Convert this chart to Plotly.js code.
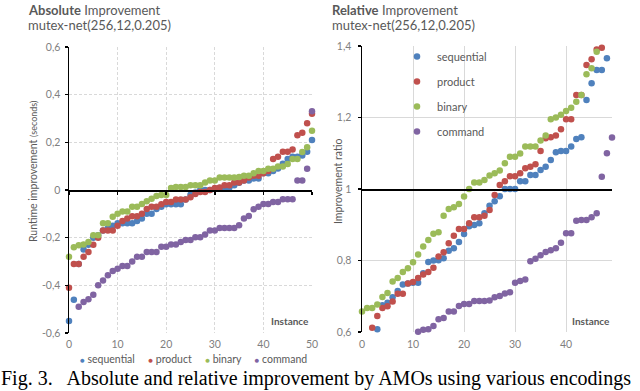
<!DOCTYPE html>
<html>
<head>
<meta charset="utf-8">
<script src="https://cdn.plot.ly/plotly-3.0.1.min.js"></script>
<style>html,body{margin:0;padding:0;background:#fff;}#chart{width:640px;height:391px;}</style>
</head>
<body>
<div id="chart"></div>
<script>
// ---------- data ----------
const seriesNames = ['sequential', 'product', 'binary', 'command'];
const seriesColors = ['#4F81BD', '#C0504D', '#9BBB59', '#8064A2'];

// Absolute improvement (seconds), instances 0..50
const instAbs = [0,1,2,3,4,5,6,7,8,9,10,11,12,13,14,15,16,17,18,19,20,21,22,23,24,25,26,27,28,29,30,31,32,33,34,35,36,37,38,39,40,41,42,43,44,45,46,47,48,49,50];
const absSequential = [-0.55,-0.46,-0.31,-0.25,-0.23,-0.20,-0.19,-0.17,-0.16,-0.15,-0.14,-0.14,-0.14,-0.14,-0.13,-0.12,-0.10,-0.10,-0.08,-0.07,-0.06,-0.06,-0.06,-0.06,-0.04,-0.02,-0.01,0.0,0.0,0.0,0.005,0.008,0.01,0.01,0.02,0.03,0.04,0.04,0.048,0.048,0.07,0.07,0.08,0.09,0.11,0.13,0.14,0.14,0.145,0.16,0.21];
const absProduct = [-0.41,-0.31,-0.31,-0.28,-0.26,-0.23,-0.20,-0.17,-0.17,-0.17,-0.15,-0.13,-0.12,-0.11,-0.11,-0.10,-0.08,-0.07,-0.07,-0.06,-0.05,-0.05,-0.04,-0.04,-0.04,-0.03,-0.017,-0.008,-0.008,0.0,0.008,0.011,0.02,0.02,0.031,0.031,0.04,0.052,0.06,0.06,0.07,0.08,0.13,0.14,0.16,0.16,0.17,0.23,0.24,0.28,0.32];
const absBinary = [-0.28,-0.24,-0.232,-0.229,-0.218,-0.19,-0.19,-0.14,-0.14,-0.112,-0.10,-0.09,-0.09,-0.07,-0.07,-0.059,-0.047,-0.037,-0.025,-0.021,-0.021,0.008,0.013,0.013,0.013,0.02,0.02,0.02,0.031,0.04,0.04,0.052,0.052,0.052,0.052,0.055,0.06,0.06,0.07,0.08,0.08,0.089,0.089,0.099,0.099,0.109,0.13,0.13,0.159,0.179,0.249];
const absCommand = [null,null,-0.49,-0.47,-0.458,-0.439,-0.40,-0.38,-0.358,-0.34,-0.33,-0.319,-0.319,-0.30,-0.28,-0.28,-0.26,-0.26,-0.26,-0.238,-0.238,-0.229,-0.229,-0.218,-0.21,-0.21,-0.198,-0.198,-0.187,-0.17,-0.17,-0.159,-0.159,-0.159,-0.159,-0.148,-0.12,-0.109,-0.081,-0.07,-0.059,-0.059,-0.05,-0.05,-0.039,-0.039,-0.039,0.04,0.04,0.089,0.33];

// Relative improvement (ratio), instances 0..49 (points outside 0.6..1.4 not shown)
const instRel = [0,1,2,3,4,5,6,7,8,9,10,11,12,13,14,15,16,17,18,19,20,21,22,23,24,25,26,27,28,29,30,31,32,33,34,35,36,37,38,39,40,41,42,43,44,45,46,47,48,49];
const relSequential = [null,null,null,0.608,0.675,0.682,0.697,0.715,0.733,0.736,0.738,0.738,0.764,0.796,0.80,0.801,0.806,0.827,0.834,0.852,0.874,0.896,0.899,0.904,0.932,0.953,0.966,0.98,1.0,1.0,1.0,1.022,1.022,1.039,1.039,1.053,1.062,1.081,1.103,1.106,1.106,1.119,1.14,1.145,1.249,1.296,1.333,1.333,1.366,null];
const relProduct = [null,null,0.612,0.645,0.667,0.672,0.685,0.707,0.707,0.736,0.74,0.751,0.761,0.768,0.78,0.811,0.823,0.848,0.869,0.888,0.888,0.904,0.921,0.921,0.925,0.941,0.983,1.011,1.022,1.036,1.036,1.044,1.058,1.062,1.069,1.106,1.142,1.145,1.15,1.167,1.195,1.195,1.263,1.263,1.347,1.363,1.39,1.395,null,null];
const relBinary = [0.657,0.667,0.667,0.677,0.698,0.709,0.741,0.751,0.768,0.778,0.795,0.817,0.839,0.857,0.875,0.879,0.925,0.944,0.949,0.958,0.979,1.0,1.018,1.018,1.025,1.038,1.044,1.052,1.072,1.09,1.09,1.099,1.119,1.119,1.119,1.136,1.15,1.195,1.2,1.208,1.218,1.227,1.244,1.263,1.321,1.338,1.384,null,null,null];
const relCommand = [null,null,null,null,null,null,null,null,null,null,null,0.601,0.606,0.608,0.617,0.636,0.639,0.657,0.657,0.673,0.678,0.678,0.687,0.687,0.687,0.688,0.697,0.701,0.708,0.711,0.738,0.743,0.747,0.798,0.805,0.815,0.824,0.829,0.834,0.85,0.876,0.876,0.911,0.913,0.913,0.921,0.932,1.034,1.1,1.144];

// axis ticks
const absXTicks = [0,10,20,30,40,50];
const absYTicks = [-0.6,-0.4,-0.2,0,0.2,0.4,0.6];
const absYLabels = ['-0,6','-0,4','-0,2','0','0,2','0,4','0,6'];
const relXTicks = [0,10,20,30,40];
const relYTicks = [0.6,0.8,1,1.2,1.4];
const relYLabels = ['0,6','0,8','1','1,2','1,4'];

// ---------- layout helpers ----------
const W = 640, H = 391;
const fx = p => p / W;
const fy = p => 1 - p / H;
const FONT = 'Lato, "Open Sans", sans-serif';
const GREY = '#595959';
const TICKGREY = '#7f7f7f';

const absRange = [-0.6, 0.6];
const relRange = [0.6, 1.4];
const domLx = [fx(69), fx(312)], domLy = [fy(333), fy(47)];
const domRx = [fx(362), fx(612)], domRy = [fy(332), fy(46)];
const posAt = (dom, range, v) => dom[0] + (v - range[0]) / (range[1] - range[0]) * (dom[1] - dom[0]);

const absSeries = [absSequential, absProduct, absBinary, absCommand];
const relSeries = [relSequential, relProduct, relBinary, relCommand];

const traces = [];
absSeries.forEach((ys, k) => {
  traces.push({
    type: 'scatter', mode: 'markers', x: instAbs, y: ys, name: seriesNames[k],
    xaxis: 'x', yaxis: 'y', showlegend: false, cliponaxis: false,
    marker: {color: seriesColors[k], size: 6.5, line: {width: 0}}
  });
});
relSeries.forEach((ys, k) => {
  traces.push({
    type: 'scatter', mode: 'markers', x: instRel, y: ys, name: seriesNames[k],
    xaxis: 'x2', yaxis: 'y2', showlegend: true, legendgroup: 'g' + k, cliponaxis: false,
    marker: {color: seriesColors[k], size: 6.5, line: {width: 0}}
  });
});
// invisible anchors so the crossing axis lines are drawn
traces.push({type:'scatter', mode:'markers', x:[0], y:[0], xaxis:'x3', yaxis:'y', showlegend:false, hoverinfo:'skip', marker:{opacity:0}});
traces.push({type:'scatter', mode:'markers', x:[0], y:[1], xaxis:'x4', yaxis:'y2', showlegend:false, hoverinfo:'skip', marker:{opacity:0}});

const commonTick = {family: FONT, size: 10.5, color: TICKGREY};

const layout = {
  width: W, height: H, autosize: false,
  margin: {l: 0, r: 0, t: 0, b: 0},
  paper_bgcolor: '#fff', plot_bgcolor: 'rgba(0,0,0,0)',
  font: {family: FONT, color: GREY},
  showlegend: true,
  xaxis: {
    domain: domLx, range: [0, 50], anchor: 'y',
    tickvals: absXTicks, ticks: '', ticklabelstandoff: 3,
    showgrid: true, gridcolor: '#d9d9d9', griddash: '3px,2px', gridwidth: 1,
    showline: false, zeroline: false, tickfont: commonTick
  },
  yaxis: {
    domain: domLy, range: absRange, anchor: 'x',
    tickvals: absYTicks, ticktext: absYLabels,
    ticks: 'outside', ticklen: 3, tickcolor: '#000', tickwidth: 1.5,
    showline: true, linecolor: '#000', linewidth: 1.5,
    showgrid: true, gridcolor: '#d9d9d9', griddash: '3px,2px', gridwidth: 1,
    zeroline: false, tickfont: commonTick, ticklabelstandoff: 2
  },
  xaxis3: {
    overlaying: 'x', anchor: 'free', position: posAt(domLy, absRange, 0),
    range: [0, 50], tickvals: absXTicks, showticklabels: false,
    ticks: 'outside', ticklen: 3, tickcolor: '#000', tickwidth: 1.5,
    showline: true, linecolor: '#000', linewidth: 1.5,
    showgrid: false, zeroline: false
  },
  xaxis2: {
    domain: domRx, range: [0, 49], anchor: 'y2',
    tickvals: relXTicks, ticks: '', ticklabelstandoff: 4,
    showgrid: true, gridcolor: '#d9d9d9', gridwidth: 1,
    showline: false, zeroline: false, tickfont: commonTick
  },
  yaxis2: {
    domain: domRy, range: relRange, anchor: 'x2',
    tickvals: relYTicks, ticktext: relYLabels,
    ticks: 'outside', ticklen: 3, tickcolor: '#000', tickwidth: 1.5,
    showline: true, linecolor: '#000', linewidth: 1.5,
    showgrid: true, gridcolor: '#d9d9d9', gridwidth: 1,
    zeroline: false, tickfont: commonTick, ticklabelstandoff: 4
  },
  xaxis4: {
    overlaying: 'x2', anchor: 'free', position: posAt(domRy, relRange, 1),
    range: [0, 49], showticklabels: false, ticks: '',
    showline: true, linecolor: '#000', linewidth: 1.5,
    showgrid: false, zeroline: false
  },
  legend: {
    x: fx(397), xanchor: 'left', y: fy(42), yanchor: 'top',
    bgcolor: 'rgba(0,0,0,0)', borderwidth: 0,
    font: {family: FONT, size: 11, color: GREY},
    tracegroupgap: 6, itemclick: false, itemdoubleclick: false
  },
  annotations: []
};

const ann = (text, x, y, opts) => Object.assign({
  text: text, x: fx(x), y: fy(y), xref: 'paper', yref: 'paper',
  xanchor: 'left', yanchor: 'middle', showarrow: false,
  font: {family: FONT, size: 13, color: GREY}
}, opts || {});

layout.annotations.push(ann('<b>Absolute</b> Improvement', 26, 10));
layout.annotations.push(ann('mutex-net(256,12,0.205)', 26, 25));
layout.annotations.push(ann('<b>Relative</b> Improvement', 330, 10));
layout.annotations.push(ann('mutex-net(256,12,0.205)', 330, 25));
layout.annotations.push(ann('Runtime improvement <span style="font-size:9px">(seconds)</span>', 33, 172,
  {xanchor: 'center', textangle: -90, font: {family: FONT, size: 10.5, color: GREY}}));
layout.annotations.push(ann('Improvement ratio', 338, 182,
  {xanchor: 'center', textangle: -90, font: {family: FONT, size: 10.5, color: GREY}}));
layout.annotations.push(ann('<b>Instance</b>', 311, 321, {xanchor: 'right', font: {family: FONT, size: 10, color: GREY}}));
layout.annotations.push(ann('<b>Instance</b>', 612, 321, {xanchor: 'right', font: {family: FONT, size: 10, color: GREY}}));

const legendText = seriesNames.map((n, k) =>
  '<span style="color:' + seriesColors[k] + ';font-size:8px">\u25CF</span>\u00a0' + n).join('\u00a0\u00a0\u00a0\u00a0\u00a0');
layout.annotations.push(ann(legendText, 193, 359, {xanchor: 'center', borderpad: 0, font: {family: FONT, size: 10.5, color: GREY}}));

layout.annotations.push(ann('Fig. 3.\u00a0\u00a0 Absolute and relative improvement by AMOs using various encodings', 0, 391,
  {yanchor: 'bottom', borderpad: 0, font: {family: '"Liberation Serif", "Times New Roman", serif', size: 20, color: '#000'}}));

Plotly.newPlot('chart', traces, layout, {staticPlot: true, displayModeBar: false});
</script>
</body>
</html>
